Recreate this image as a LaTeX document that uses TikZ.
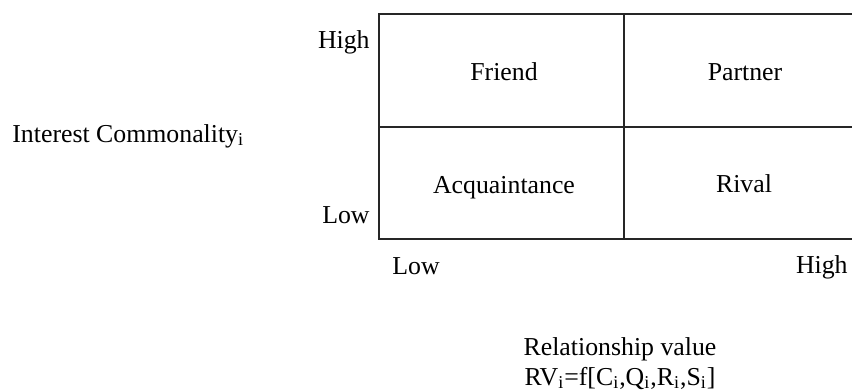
\documentclass[tikz,border=0pt]{standalone}
\usepackage{fontspec}
\setmainfont{Liberation Serif}
\usepackage{tikz}
\usetikzlibrary{positioning}
\newcommand{\subi}{\textsubscript{i}}

\begin{document}
\begin{tikzpicture}[x=0.5pt, y=-0.5pt,
    grid/.style={draw=black!85, line width=0.9pt},
    lbl/.style={inner sep=0pt, font=\fontsize{12.9}{15}\selectfont}]
  \useasboundingbox (0,0) rectangle (852,391);
  % matrix lines
  \draw[grid] (852,14) -- (379,14) -- (379,239) -- (852,239);
  \draw[grid] (379,127) -- (852,127);
  \draw[grid] (624,14) -- (624,239);
  % quadrants
  \node[lbl, anchor=base] (friend) at (504,80) {Friend};
  \node[lbl, anchor=base] (partner) at (745,80) {Partner};
  \node[lbl, anchor=base] (acq) at (504,193) {Acquaintance};
  \node[lbl, anchor=base] (rival) at (744,192) {Rival};
  % axis ends
  \node[lbl, anchor=base east] (yhigh) at (370,48) {High};
  \node[lbl, anchor=base east] (ylow) at (370,223) {Low};
  \node[lbl, anchor=base west] (xlow) at (392,274) {Low};
  \node[lbl, anchor=base east] (xhigh) at (848,273) {High};
  % axis titles
  \node[lbl, anchor=base west] (ytitle) at (12,142) {Interest Commonality\subi};
  \node[lbl, anchor=base] (xtitle) at (620,355) {Relationship value};
  \node[lbl, anchor=base] (xfunc) at (620,385)
    {RV\subi=f[C\subi,Q\subi,R\subi,S\subi]};
\end{tikzpicture}
\end{document}
